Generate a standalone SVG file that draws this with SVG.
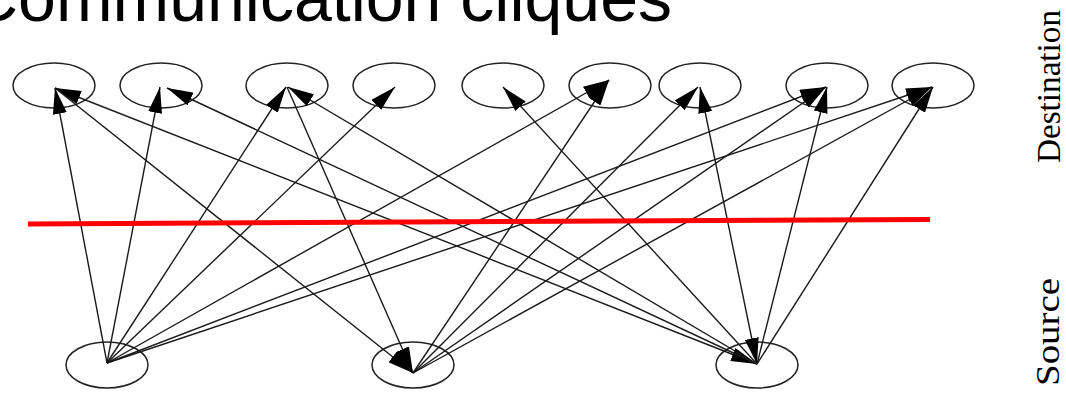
<svg xmlns="http://www.w3.org/2000/svg" width="1066" height="394" viewBox="0 0 1066 394">
  <style>
    .node ellipse { fill: none; stroke: #222; stroke-width: 1.5; }
    .edge { fill: none; stroke: #1a1a1a; stroke-width: 1.4; }
    .title { font-family: "Liberation Sans", Arial, sans-serif; font-size: 68px; fill: #000; }
    .side { font-family: "Liberation Serif", "Times New Roman", serif; font-size: 33px; fill: #000; }
  </style>
  <defs>
    <marker id="arrow" viewBox="0 0 26 14" refX="26" refY="7" markerWidth="26" markerHeight="14" markerUnits="userSpaceOnUse" orient="auto-start-reverse">
      <path d="M0,0 L26,7 L0,14 z" fill="#000"/>
    </marker>
  </defs>
  <rect width="1066" height="394" fill="#fff"/>

  <text class="title" x="-31" y="21">Communication cliques</text>

  <!-- destination row -->
  <g id="d1" class="node"><ellipse cx="54" cy="85.5" rx="41" ry="22.5"/></g>
  <g id="d2" class="node"><ellipse cx="161" cy="85.5" rx="41" ry="22.5"/></g>
  <g id="d3" class="node"><ellipse cx="287" cy="85.5" rx="41" ry="22.5"/></g>
  <g id="d4" class="node"><ellipse cx="394" cy="85.5" rx="41" ry="22.5"/></g>
  <g id="d5" class="node"><ellipse cx="503" cy="85.5" rx="41" ry="22.5"/></g>
  <g id="d6" class="node"><ellipse cx="610" cy="85.5" rx="41" ry="22.5"/></g>
  <g id="d7" class="node"><ellipse cx="700" cy="85.5" rx="41" ry="22.5"/></g>
  <g id="d8" class="node"><ellipse cx="827" cy="85.5" rx="41" ry="22.5"/></g>
  <g id="d9" class="node"><ellipse cx="933" cy="85.5" rx="41" ry="22.5"/></g>

  <!-- source row -->
  <g id="s1" class="node"><ellipse cx="107" cy="365" rx="41" ry="23"/></g>
  <g id="s2" class="node"><ellipse cx="413" cy="365" rx="41" ry="23"/></g>
  <g id="s3" class="node"><ellipse cx="757" cy="365" rx="41" ry="23"/></g>

  <g id="connectors">
    <!-- from s1 -->
    <path class="edge" d="M107,363 L55,88" marker-end="url(#arrow)"/>
    <path class="edge" d="M107,363 L160,87" marker-end="url(#arrow)"/>
    <path class="edge" d="M107,363 L286,87" marker-end="url(#arrow)"/>
    <path class="edge" d="M107,363 L395,87" marker-end="url(#arrow)"/>
    <path class="edge" d="M107,363 L609,80" marker-end="url(#arrow)"/>
    <path class="edge" d="M107,363 L826,87" marker-end="url(#arrow)"/>
    <path class="edge" d="M107,363 L932,87" marker-end="url(#arrow)"/>
    <!-- into s2 -->
    <path class="edge" d="M55,88 L413,373" marker-end="url(#arrow)"/>
    <path class="edge" d="M287,87 L413,373" marker-end="url(#arrow)"/>
    <!-- from s2 -->
    <path class="edge" d="M413,373 L609,80" marker-end="url(#arrow)"/>
    <path class="edge" d="M413,373 L698,87" marker-end="url(#arrow)"/>
    <path class="edge" d="M413,373 L826,87" marker-end="url(#arrow)"/>
    <path class="edge" d="M413,373 L932,87" marker-end="url(#arrow)"/>
    <!-- from s3 -->
    <path class="edge" d="M757,364 L55,88" marker-start="url(#arrow)" marker-end="url(#arrow)"/>
    <path class="edge" d="M757,364 L167,88" marker-end="url(#arrow)"/>
    <path class="edge" d="M757,364 L288,87" marker-end="url(#arrow)"/>
    <path class="edge" d="M757,364 L503,87" marker-end="url(#arrow)"/>
    <path class="edge" d="M757,364 L700,87" marker-start="url(#arrow)" marker-end="url(#arrow)"/>
    <path class="edge" d="M757,364 L827,87" marker-end="url(#arrow)"/>
    <path class="edge" d="M757,364 L933,87" marker-end="url(#arrow)"/>
  </g>

  <!-- cut line -->
  <path d="M28,224 L930,219.5" stroke="#ff0000" stroke-width="5" fill="none"/>

  <text class="side" transform="translate(1060,86.5) rotate(-90)" text-anchor="middle" textLength="153" lengthAdjust="spacingAndGlyphs">Destination</text>
  <text class="side" transform="translate(1059,332) rotate(-90)" text-anchor="middle" textLength="108" lengthAdjust="spacingAndGlyphs">Source</text>
</svg>
